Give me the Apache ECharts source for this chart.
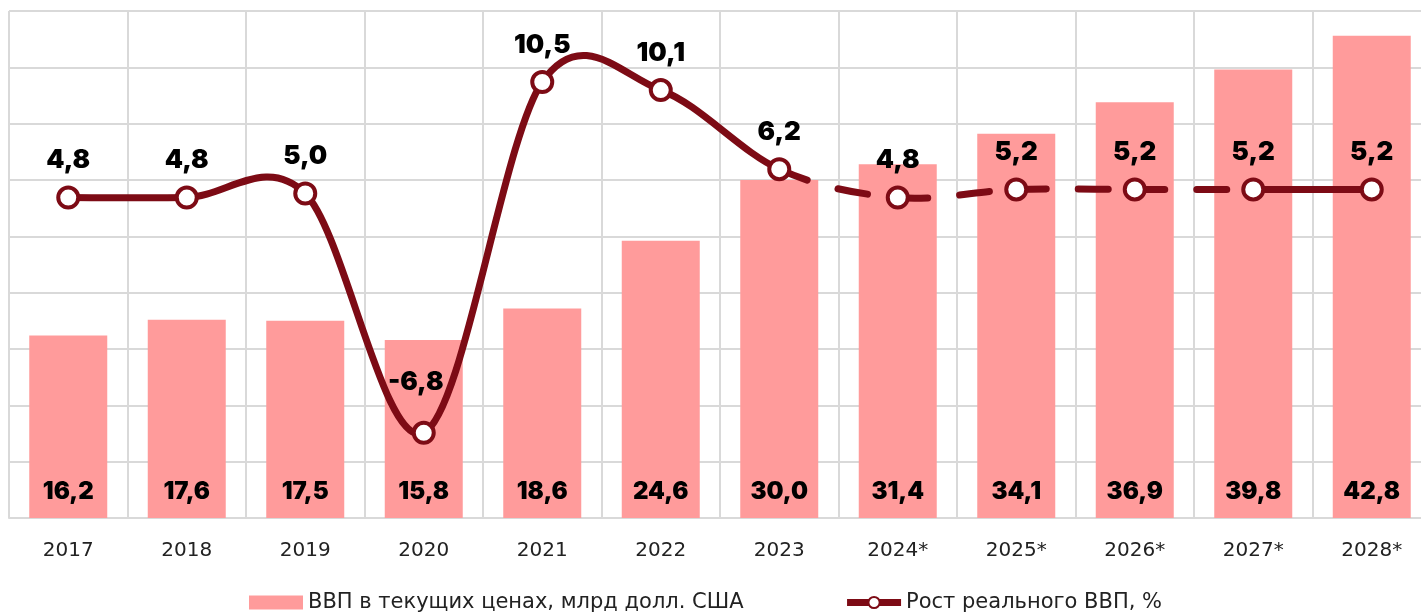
<!DOCTYPE html>
<html>
<head>
<meta charset="utf-8">
<script src="https://cdn.jsdelivr.net/npm/echarts@6/dist/echarts.min.js"></script>
<style>
  html, body { margin: 0; padding: 0; background: #fff; }
  #main { width: 1421px; height: 615px; }
</style>
</head>
<body>
<div id="main"></div>
<script>
// годы
var years = ["2017", "2018", "2019", "2020", "2021", "2022", "2023", "2024*", "2025*", "2026*", "2027*", "2028*"];
// ВВП в текущих ценах, млрд долл. США
var gdpNominal = [16.2, 17.6, 17.5, 15.8, 18.6, 24.6, 30.0, 31.4, 34.1, 36.9, 39.8, 42.8];
// Рост реального ВВП, %
var gdpGrowth = [4.8, 4.8, 5.0, -6.8, 10.5, 10.1, 6.2, 4.8, 5.2, 5.2, 5.2, 5.2];
// отрезки линии пунктиром (индекс начала отрезка): 2023->2027
var dashedSegments = [6, 7, 8, 9];

var lineColor = "#7d0b15";
var barColor = "#ff9b9b";
var boldFont = "Inter, 'Noto Sans', sans-serif";
var textFont = "'DejaVu Sans', sans-serif";

function fmt(v) { return String(v.toFixed(1)).replace(".", ","); }

// сглаженная кривая как в Excel — по отрезкам, через оси графика
function renderCurve(params, api) {
  var i = params.dataIndexInside;
  var n = params.dataInsideLength;
  if (i >= n - 1) return null;
  function pt(j) {
    j = Math.max(0, Math.min(n - 1, j));
    return api.coord([api.value(0, j), api.value(1, j)]);
  }
  var p0 = pt(i - 1), p1 = pt(i), p2 = pt(i + 1), p3 = pt(i + 2);
  var k = 1 / 6;
  var dashed = dashedSegments.indexOf(i) >= 0;
  return {
    type: "bezierCurve",
    shape: {
      x1: p1[0], y1: p1[1],
      cpx1: p1[0] + (p2[0] - p0[0]) * k, cpy1: p1[1] + (p2[1] - p0[1]) * k,
      cpx2: p2[0] - (p3[0] - p1[0]) * k, cpy2: p2[1] - (p3[1] - p1[1]) * k,
      x2: p2[0], y2: p2[1]
    },
    style: {
      stroke: lineColor,
      lineWidth: 7,
      fill: null,
      lineCap: "round",
      lineDash: dashed ? [30, 32] : null
    }
  };
}

var growthPoints = gdpGrowth.map(function (v, i) {
  var item = { value: v };
  if (i === 3) item.label = { distance: 26, offset: [-8, 0] };
  return item;
});

var myChart = echarts.init(document.getElementById("main"));
var option = {
  animation: false,
  backgroundColor: "#fff",
  grid: { left: 9, top: 11, width: 1422, height: 507, outerBoundsMode: "none", containLabel: false },
  legend: {
    bottom: -3,
    left: 244,
    itemGap: 100,
    itemWidth: 54,
    itemHeight: 14,
    textStyle: { fontFamily: textFont, fontSize: 21, color: "#222" },
    data: [
      { name: "ВВП в текущих ценах, млрд долл. США", icon: "rect" },
      {
        name: "Рост реального ВВП, %",
        lineStyle: { color: lineColor, width: 7, opacity: 1 }
      }
    ]
  },
  xAxis: {
    type: "category",
    data: years,
    axisTick: { show: false },
    axisLine: { lineStyle: { color: "#d9d9d9", width: 2 } },
    axisLabel: { fontFamily: textFont, fontSize: 20, color: "#222", margin: 23 },
    splitLine: { show: true, lineStyle: { color: "#d9d9d9", width: 2 } }
  },
  yAxis: [
    {
      type: "value",
      min: 0, max: 45, interval: 5,
      axisLabel: { show: false },
      axisLine: { show: false },
      axisTick: { show: false },
      splitLine: { lineStyle: { color: "#d9d9d9", width: 2 } }
    },
    {
      type: "value",
      min: -11, max: 14,
      show: false,
      splitLine: { show: false }
    }
  ],
  series: [
    {
      name: "ВВП в текущих ценах, млрд долл. США",
      type: "bar",
      barWidth: 78,
      data: gdpNominal,
      itemStyle: { color: barColor },
      label: {
        show: true,
        position: "insideBottom",
        distance: 14,
        color: "#000",
        fontFamily: boldFont,
        fontWeight: 900,
        fontSize: 24,
        formatter: function (p) { return fmt(p.value); }
      }
    },
    {
      name: "curve",
      type: "custom",
      yAxisIndex: 1,
      z: 4,
      silent: true,
      renderItem: renderCurve,
      encode: { x: 0, y: 1 },
      data: gdpGrowth.map(function (v, i) { return [i, v]; })
    },
    {
      name: "Рост реального ВВП, %",
      type: "line",
      yAxisIndex: 1,
      data: growthPoints,
      symbol: "circle",
      symbolSize: 20,
      z: 5,
      lineStyle: { color: lineColor, width: 7, opacity: 0 },
      itemStyle: { color: "#fff", borderColor: lineColor, borderWidth: 4 },
      label: {
        show: true,
        position: "top",
        distance: 12,
        color: "#000",
        fontFamily: boldFont,
        fontWeight: 900,
        fontSize: 26,
        formatter: function (p) { return fmt(p.value); }
      }
    }
  ]
};
myChart.setOption(option);
</script>
</body>
</html>
